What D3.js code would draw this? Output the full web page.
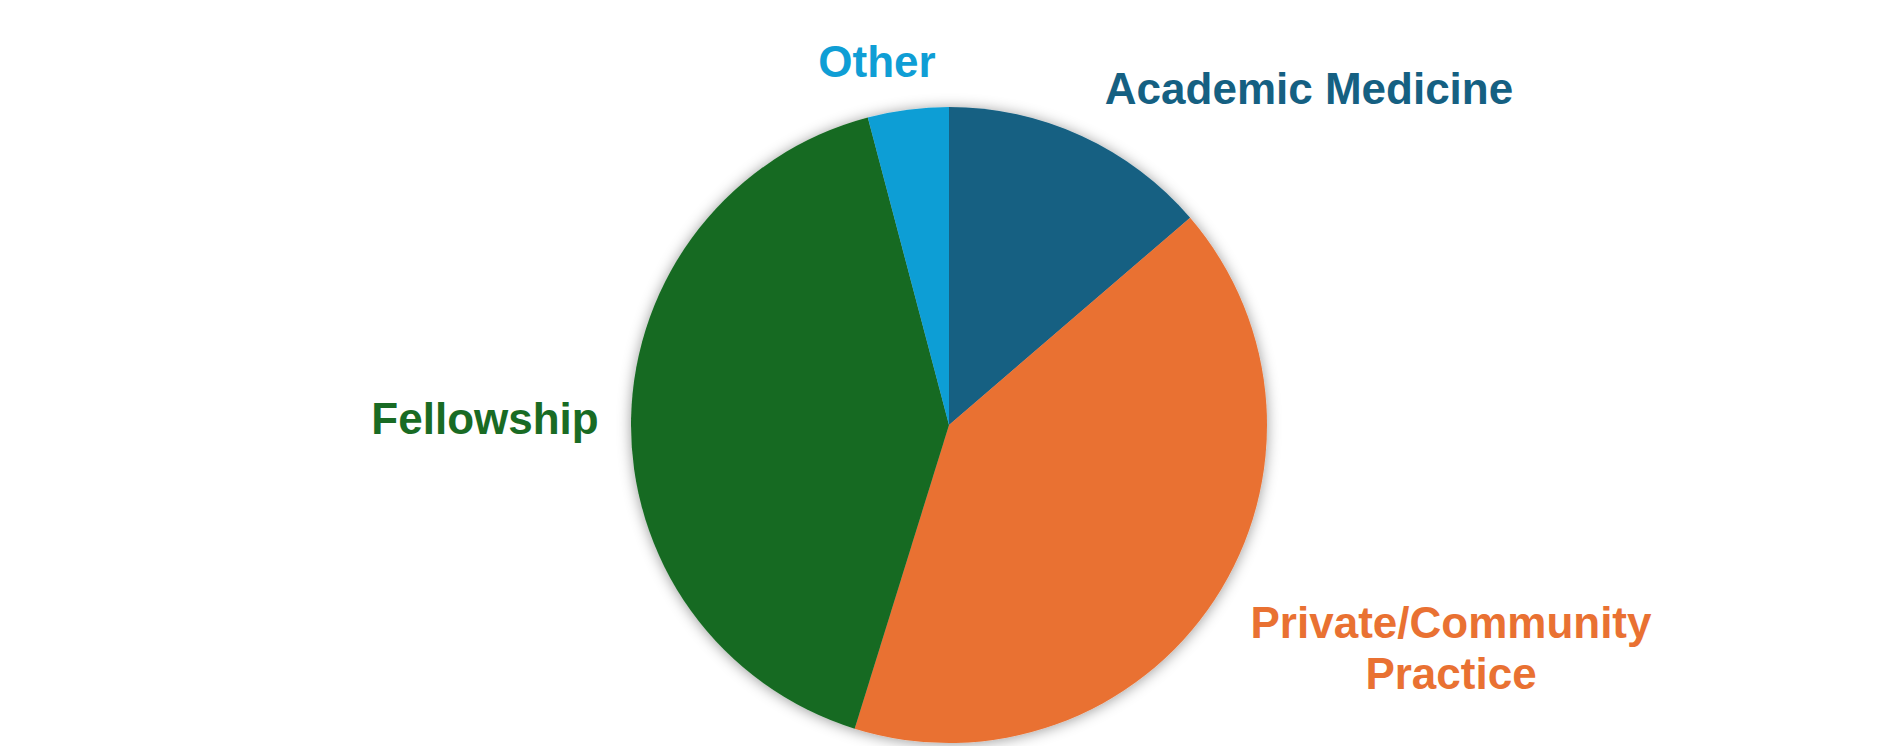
<!DOCTYPE html>
<html>
<head>
<meta charset="utf-8">
<script src="https://cdn.jsdelivr.net/npm/d3@7/dist/d3.min.js"></script>
<style>
  html, body { margin: 0; padding: 0; background: #ffffff; }
  svg { display: block; }
  text { font-family: "Liberation Sans", Arial, "DejaVu Sans", sans-serif; font-weight: bold; }
</style>
</head>
<body>
<script>
const categories = ["Academic Medicine", "Private/Community Practice", "Fellowship", "Other"];
const values = [10, 30, 30, 3];
const colors = ["#156082", "#E97132", "#196B24", "#0F9ED5"];
const labelLines = [["Academic Medicine"], ["Private/Community", "Practice"], ["Fellowship"], ["Other"]];

const W = 1899, H = 746;
const cx = 949, cy = 425, R = 318;

const svg = d3.select("body").append("svg").attr("width", W).attr("height", H);

const defs = svg.append("defs");
const f = defs.append("filter").attr("id", "shadow")
  .attr("x", "-20%").attr("y", "-20%").attr("width", "140%").attr("height", "140%");
f.append("feDropShadow").attr("dx", 0).attr("dy", 1).attr("stdDeviation", 7)
  .attr("flood-color", "#000").attr("flood-opacity", 0.4);

const data = categories.map((c, i) => ({ cat: c, value: values[i], color: colors[i], lines: labelLines[i] }));

const pie = d3.pie().value(d => d.value).sort(null);
const arc = d3.arc().innerRadius(0).outerRadius(R);
const arcs = pie(data);

const g = svg.append("g").attr("transform", `translate(${cx},${cy})`);
const slices = g.append("g").attr("filter", "url(#shadow)");
slices.selectAll("path").data(arcs).enter().append("path")
  .attr("d", arc)
  .attr("fill", d => d.data.color);

// label placements (offsets from pie centre), anchored at text centre
const labelPos = {
  "Academic Medicine": { x: 360, y: -321 },
  "Private/Community Practice": { x: 502, y: 213 },
  "Fellowship": { x: -464, y: 9 },
  "Other": { x: -72, y: -348 }
};
const lineH = 51;
const fontSize = 44;

g.selectAll("text.lbl").data(arcs).enter().append("text")
  .attr("class", "lbl")
  .attr("text-anchor", "middle")
  .attr("font-size", fontSize)
  .attr("fill", d => d.data.color)
  .each(function(d) {
    const p = labelPos[d.data.cat];
    const t = d3.select(this);
    d.data.lines.forEach((ln, i) => {
      t.append("tspan").attr("x", p.x).attr("y", p.y + i * lineH).text(ln);
    });
  });
</script>
</body>
</html>
